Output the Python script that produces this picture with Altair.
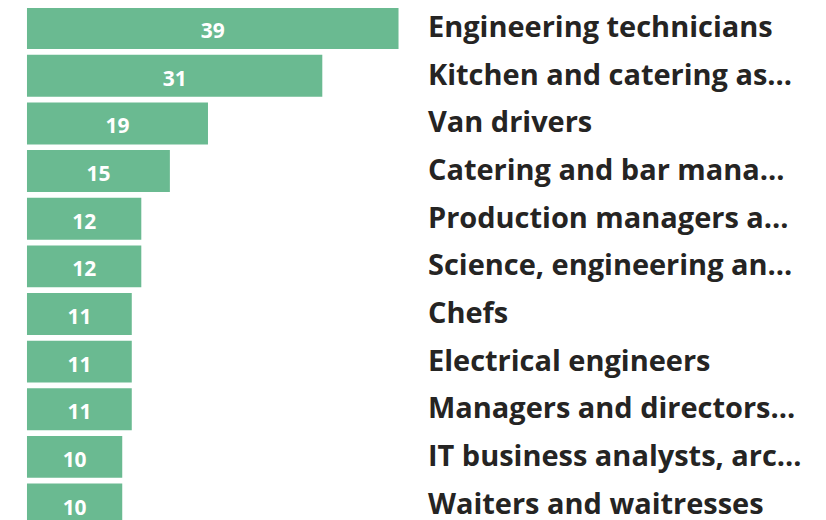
import altair as alt
import pandas as pd

occupations = [
    "Engineering technicians",
    "Kitchen and catering as…",
    "Van drivers",
    "Catering and bar mana…",
    "Production managers a…",
    "Science, engineering an…",
    "Chefs",
    "Electrical engineers",
    "Managers and directors…",
    "IT business analysts, arc…",
    "Waiters and waitresses",
]
counts = [39, 31, 19, 15, 12, 12, 11, 11, 11, 10, 10]

df = pd.DataFrame({"occupation": occupations, "count": counts})

FONT = "Open Sans"

y_enc = alt.Y(
    "occupation:N",
    sort=None,
    scale=alt.Scale(paddingInner=0.12, paddingOuter=0.06),
    axis=alt.Axis(
        orient="right",
        title=None,
        ticks=False,
        domain=False,
        labelPadding=29,
        labelFont=FONT,
        labelFontSize=29,
        labelFontWeight="bold",
        labelColor="#252423",
        labelLimit=0,
        labelBaseline="middle",
    ),
)

x_scale = alt.Scale(domain=[0, 39], nice=False)

bars = alt.Chart(df).mark_bar(color="#6aba91").encode(
    x=alt.X("count:Q", scale=x_scale, axis=None),
    y=y_enc,
)

labels = (
    alt.Chart(df)
    .transform_calculate(mid="datum.count / 2")
    .mark_text(
        font=FONT,
        fontSize=21,
        fontWeight="bold",
        color="white",
        baseline="middle",
        dy=4,
    )
    .encode(
        x=alt.X("mid:Q", scale=x_scale, axis=None),
        y=alt.Y("occupation:N", sort=None),
        text="count:Q",
    )
)

chart = (
    alt.layer(bars, labels)
    .properties(
        width=372,
        height=alt.Step(47.7),
        padding={"left": 19, "top": -4, "right": 420, "bottom": 0},
        autosize=alt.AutoSizeParams(type="none"),
    )
    .configure_view(stroke=None)
)

chart.save("out.html", embed_options={"renderer": "svg", "actions": False})
